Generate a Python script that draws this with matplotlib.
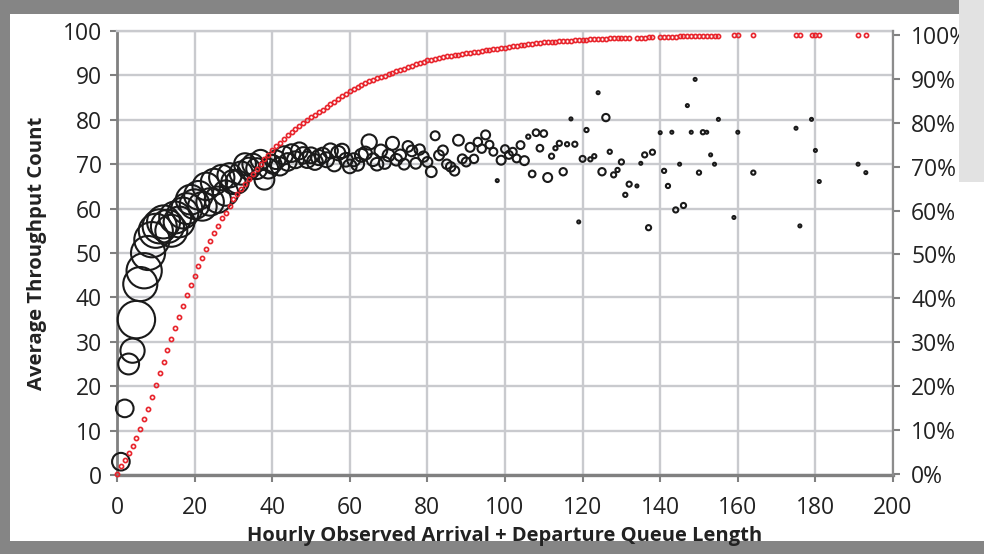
import matplotlib
matplotlib.use("Agg")
import matplotlib.pyplot as plt
from matplotlib.patches import Rectangle

# ---------------- data ----------------
# queue lengths that have observations (black bubbles)
queue_len = (list(range(1, 133)) + list(range(134, 139)) + list(range(140, 156))
             + [159, 160, 164, 175, 176, 179, 180, 181, 191, 193])

avg_throughput = [
    3, 15, 25, 28, 35, 43, 46, 50, 53, 55,                      # 1-10
    56, 57, 56, 55, 58, 57, 59, 60, 62, 61,                     # 11-20
    63, 60.5, 65, 61.5, 66, 62, 67, 63.5, 67.5, 66,             # 21-30
    66, 68, 70, 69, 70, 69, 71, 66.5, 69, 70,                   # 31-40
    71, 69.5, 72, 70.5, 72.5, 71, 73, 72, 71, 72,               # 41-50
    70.5, 71.5, 72, 71, 73, 70, 72.5, 73, 71, 69.5,             # 51-60
    71, 70, 72, 72.5, 75, 71, 70, 73, 70.3, 72,                 # 61-70
    74.7, 71, 72, 70, 74, 73, 70.2, 73.3, 71.7, 70.5,           # 71-80
    68.3, 76.4, 72, 73.1, 70, 69.4, 68.5, 75.4, 71.2, 70.5,     # 81-90
    73.8, 71.2, 75, 73.5, 76.6, 74.4, 72.8, 66.3, 70.9, 73.4,   # 91-100
    72.1, 72.8, 71.3, 74.3, 70.8, 76.2, 67.8, 77.1, 73.6, 76.9, # 101-110
    67, 71.8, 73.6, 74.7, 68.3, 74.5, 80.2, 74.5, 57, 71.2,     # 111-120
    77.7, 71.1, 71.8, 86.1, 68.3, 80.5, 72.8, 67.6, 68.7, 70.5, # 121-130
    63.1, 65.5,                                                 # 131-132
    65.1, 70.2, 72.1, 55.7, 72.7,                               # 134-138
    77.1, 68.5, 65.1, 77.2, 59.7, 70, 60.7, 83.2, 77.2, 89.1,   # 140-149
    68.1, 77.2, 77.2, 72.1, 70, 80.1,                           # 150-155
    58, 77.2, 68.1, 78.1, 56.1, 80.1, 73.1, 66.1, 70, 68.1,     # sparse tail
]

# number of observed hours behind each average (bubble size)
obs_hours = [
    35, 35, 49, 66, 158, 131, 140, 131, 140, 131,
    131, 123, 123, 115, 115, 107, 107, 107, 99, 99,
    92, 92, 85, 85, 78, 78, 72, 72, 66, 66,
    60, 60, 54, 54, 49, 49, 44, 44, 44, 39,
    39, 37, 37, 35, 35, 32, 32, 30, 30, 28,
    28, 26, 26, 25, 25, 23, 23, 23, 21, 21,
    19, 19, 19, 19, 26, 18, 18, 18, 16, 16,
    19, 15, 15, 13, 13, 13, 13, 12, 12, 11,
    13, 9, 11, 11, 10, 10, 10, 13, 9, 9,
    9, 8, 8, 8, 9, 7, 7, 1, 9, 7,
    7, 7, 7, 7, 9, 2, 5, 5, 5, 5,
    9, 3, 2, 3, 6, 2, 1, 3, 1, 4,
    2, 2, 2, 1, 6, 6, 2, 3, 2, 3,
    2, 3,
    1, 1, 3, 3, 3,
    1, 2, 2, 1, 3, 1, 3, 1, 1, 1,
    2, 2, 1, 1, 1, 1,
    1, 1, 2, 1, 1, 1, 1, 1, 1, 1,
]

# cumulative share of hours (red series, secondary axis)
cum_x = [0] + queue_len
cum_pct = [
    0.0, 1.9, 3.3, 4.8, 6.3, 8.2, 10.3, 12.5, 14.9, 17.6, 20.3,  # 0-10
    22.9, 25.6, 28.2, 30.7, 33.3, 35.8, 38.3, 40.7, 43.1, 45.2,  # 11-20
    47.4, 49.3, 51.3, 53.0, 54.8, 56.5, 58.2, 59.5, 61.0, 62.6,  # 21-30
    63.8, 65.0, 66.1, 67.1, 68.3, 69.5, 70.6, 71.7, 72.7, 73.7,  # 31-40
    74.6, 75.5, 76.4, 77.2, 77.9, 78.6, 79.3, 79.9, 80.6, 81.2,  # 41-50
    81.8, 82.4, 83.0, 83.6, 84.2, 84.8, 85.4, 86.0, 86.6, 87.2,  # 51-60
    87.7, 88.1, 88.6, 89.0, 89.4, 89.8, 90.1, 90.4, 90.7, 91.0,  # 61-70
    91.4, 91.7, 92.0, 92.3, 92.7, 93.0, 93.3, 93.6, 93.9, 94.2,  # 71-80
    94.4, 94.6, 94.8, 95.0, 95.1, 95.3, 95.4, 95.5, 95.7, 95.8,  # 81-90
    95.9, 96.1, 96.2, 96.4, 96.5, 96.6, 96.7, 96.8, 97.0, 97.1,  # 91-100
    97.3, 97.4, 97.5, 97.7, 97.8, 97.9, 98.0, 98.1, 98.2, 98.3,  # 101-110
    98.4, 98.4, 98.5, 98.6, 98.6, 98.7, 98.7, 98.8, 98.8, 98.9,  # 111-120
    98.9, 99.0, 99.0, 99.1, 99.1, 99.1, 99.2, 99.2, 99.2, 99.3,  # 121-130
    99.3, 99.3,                                                  # 131-132
    99.4, 99.4, 99.4, 99.5, 99.5,                                # 134-138
    99.5, 99.6, 99.6, 99.6, 99.6, 99.7, 99.7, 99.7, 99.7, 99.7,  # 140-149
    99.8, 99.8, 99.8, 99.8, 99.8, 99.8,                          # 150-155
    99.9, 99.9, 99.9, 99.9, 99.9, 100, 100, 100, 100, 100,       # sparse tail
]

x_ticks = [0, 20, 40, 60, 80, 100, 120, 140, 160, 180, 200]
y_ticks = [0, 10, 20, 30, 40, 50, 60, 70, 80, 90, 100]
pct_labels = ["0%", "10%", "20%", "30%", "40%", "50%", "60%", "70%", "80%", "90%", "100%"]

x_title = "Hourly Observed Arrival + Departure Queue Length"
y_title = "Average Throughput Count"

# ---------------- figure ----------------
W, H = 984, 554
FONT = "Open Sans"
plt.rcParams["font.family"] = [FONT, "DejaVu Sans"]

fig = plt.figure(figsize=(W / 100, H / 100), dpi=100)
fig.patch.set_facecolor("#858585")


def px_rect(x0, y0, x1, y1, color, z):
    fig.add_artist(Rectangle((x0 / W, 1 - y1 / H), (x1 - x0) / W, (y1 - y0) / H,
                             transform=fig.transFigure, facecolor=color,
                             edgecolor="none", zorder=z))


px_rect(10, 14, 984, 541, "white", -10)
px_rect(959, 0, 984, 182, "#e2e2e2", 20)

L, R, T, B = 117, 893, 31, 475
ax = fig.add_axes([L / W, 1 - B / H, (R - L) / W, (B - T) / H])
ax.set_facecolor("white")
ax.set_xlim(0, 200)
ax.set_ylim(0, 100)
ax.set_xticks(x_ticks)
ax.set_yticks(y_ticks)
ax.grid(True, color="#c9cace", lw=1.7)
ax.set_axisbelow(True)

axis_col = "#808080"
ax.spines["left"].set_color(axis_col)
ax.spines["left"].set_linewidth(2.0)
ax.spines["bottom"].set_color(axis_col)
ax.spines["bottom"].set_linewidth(2.4)
ax.spines["top"].set_color("#c9cace")
ax.spines["top"].set_linewidth(1.7)
ax.spines["right"].set_visible(False)

ax.tick_params(axis="both", direction="out", length=5, width=1.5, color=axis_col,
               labelsize=16.5, labelcolor="#222222")
ax.tick_params(axis="y", pad=6)
ax.tick_params(axis="x", pad=10)

ax.scatter(queue_len, avg_throughput, s=[4.6 * h for h in obs_hours],
           facecolors="none", edgecolors="#1a1a1a", linewidths=1.5,
           clip_on=False, zorder=3)

ax2 = ax.twinx()
ax2.set_ylim(-0.23, 100.9)
ax2.set_yticks(y_ticks)
ax2.set_yticklabels(pct_labels)
for s in ("left", "top", "bottom"):
    ax2.spines[s].set_visible(False)
ax2.spines["right"].set_color("#8c8c8c")
ax2.spines["right"].set_linewidth(1.6)
ax2.tick_params(axis="y", direction="out", length=5, width=1.5, color=axis_col,
                labelsize=16.5, labelcolor="#222222", pad=8)
ax2.plot(cum_x, cum_pct, ls="none", marker="o", ms=3.0, mfc="none",
         mec="#e8232b", mew=1.2, clip_on=False)

fig.text(37 / W, 1 - 253 / H, y_title, rotation=90, ha="center", va="center",
         fontsize=14.6, fontweight="bold", color="#222222")
fig.text(505 / W, 1 - 536 / H, x_title, ha="center", va="center",
         fontsize=14.5, fontweight="bold", color="#222222")

fig.savefig("out.png", dpi=100, facecolor=fig.get_facecolor())
